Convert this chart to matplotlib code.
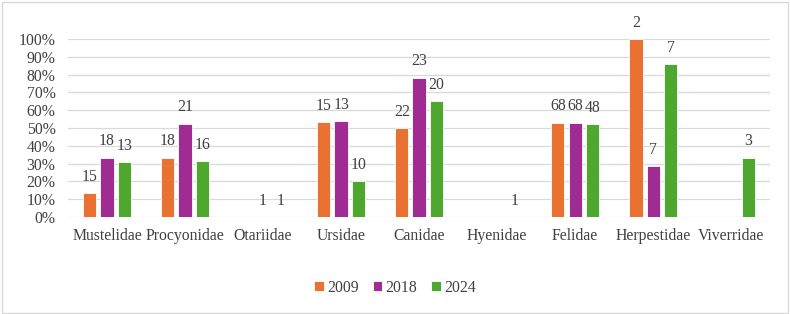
import numpy as np
import matplotlib
matplotlib.use("Agg")
import matplotlib.pyplot as plt
from matplotlib.patches import Rectangle

plt.rcParams['font.family'] = ['Liberation Serif', 'DejaVu Serif']

# Datos: porcentaje por familia y tamaño de muestra (n) encima de cada barra
familias = ['Mustelidae', 'Procyonidae', 'Otariidae', 'Ursidae', 'Canidae',
            'Hyenidae', 'Felidae', 'Herpestidae', 'Viverridae']
series = ['2009', '2018', '2024']

pct_2009 = [13.3, 33.3, 0, 53.3, 50.0, 0, 52.9, 100.0, 0]
pct_2018 = [33.3, 52.4, 0, 53.8, 78.3, 0, 52.9, 28.6, 0]
pct_2024 = [30.8, 31.3, 0, 20.0, 65.0, 0, 52.1, 85.7, 33.3]

n_2009 = [15, 18, None, 15, 22, None, 68, 2, None]
n_2018 = [18, 21, 1, 13, 23, None, 68, 7, None]
n_2024 = [13, 16, 1, 10, 20, 1, 48, 7, 3]

colores = ['#E97132', '#A02B93', '#4EA72E']
fs = 11.3

fig = plt.figure(figsize=(7.9, 3.14), dpi=100)
ax = fig.add_axes([0.086, 0.309, 0.889, 0.567])

x = np.arange(len(familias))
ancho = 0.17
paso = 0.222

for i, (pct, n) in enumerate(zip([pct_2009, pct_2018, pct_2024],
                                  [n_2009, n_2018, n_2024])):
    pos = x + (i - 1) * paso
    vals = np.array(pct) / 100.0
    ax.bar(pos, vals, width=ancho, color=colores[i], edgecolor='white',
           linewidth=0.6, label=series[i], zorder=3)
    for xp, v, k in zip(pos, vals, n):
        if k is None:
            continue
        ax.annotate(str(k), (xp, v), xytext=(0, 6), textcoords='offset points',
                    ha='center', va='bottom', fontsize=fs, color='#404040')

ax.set_xlim(-0.5, len(familias) - 0.5)
ax.set_ylim(0, 1.0)
ax.set_yticks(np.arange(0, 1.01, 0.1))
ax.set_yticklabels([f'{int(round(t * 100))}%' for t in np.arange(0, 1.01, 0.1)])
ax.set_xticks(x)
ax.set_xticklabels(familias)
ax.tick_params(axis='both', length=0, labelsize=fs, colors='#404040')
ax.tick_params(axis='y', pad=9)
ax.tick_params(axis='x', pad=8)
ax.grid(axis='y', color='#D9D9D9', linewidth=0.9, zorder=0)
for s in ax.spines.values():
    s.set_visible(False)

fig.legend(loc='center', bbox_to_anchor=(0.5, 0.083), ncol=3, frameon=False,
           fontsize=fs, handlelength=0.6, handleheight=0.6,
           handletextpad=0.2, columnspacing=0.9, labelcolor='#404040')

# marco exterior del gráfico
fig.patches.append(Rectangle((0.002, 0.004), 0.996, 0.99, transform=fig.transFigure,
                             fill=False, edgecolor='#D9D9D9', linewidth=1.0))

fig.savefig('out.png', dpi=100)
